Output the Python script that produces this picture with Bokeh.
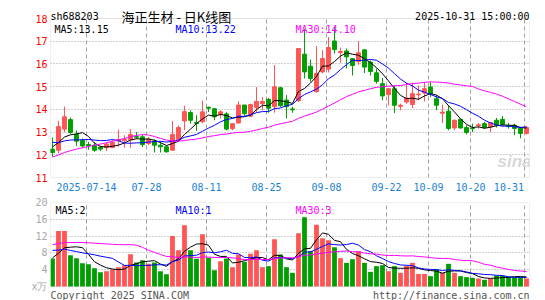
import pandas as pd
from bokeh.plotting import figure
from bokeh.layouts import column
from bokeh.models import ColumnDataSource, FixedTicker, Label, Range1d, BoxAnnotation
from bokeh.embed import file_html
from bokeh.resources import INLINE

# ---------------- data ----------------
holidays = ["2025-10-01", "2025-10-02", "2025-10-03", "2025-10-06", "2025-10-07", "2025-10-08"]
trade_days = [d.strftime("%Y-%m-%d") for d in pd.bdate_range("2025-07-04", "2025-10-31")
              if d.strftime("%Y-%m-%d") not in holidays]

open_ = [12.25, 12.20, 13.13, 13.55, 12.89, 12.63, 12.45, 12.42, 12.34, 12.31,
         12.32, 12.61, 12.62, 12.67, 12.80, 12.79, 12.50, 12.60, 12.42, 12.35,
         12.20, 12.67, 13.49, 13.86, 13.42, 13.45, 14.09, 14.03, 13.77, 13.80,
         13.15, 13.40, 14.19, 13.70, 14.08, 14.25, 14.44, 14.12, 14.95, 14.41,
         14.02, 14.38, 16.43, 15.90, 14.78, 15.65, 15.77, 17.01, 16.50, 16.57,
         16.23, 16.11, 16.62, 16.08, 15.61, 15.13, 14.65, 14.91, 14.13, 14.32,
         14.21, 14.64, 14.72, 14.98, 14.47, 13.83, 13.92, 13.18, 13.56, 13.20,
         13.17, 13.28, 13.37, 13.23, 13.52, 13.56, 13.27, 13.30, 13.16, 12.94]
high = [12.76, 13.50, 14.12, 13.64, 13.07, 12.72, 12.57, 12.54, 12.39, 12.54,
        12.64, 13.11, 12.86, 13.13, 13.00, 12.89, 12.79, 12.67, 12.57, 12.42,
        13.49, 13.30, 14.16, 13.96, 13.74, 14.38, 14.13, 14.05, 13.96, 13.89,
        13.40, 14.35, 14.20, 14.25, 14.98, 14.54, 14.50, 15.95, 15.00, 14.63,
        14.12, 16.70, 17.55, 16.19, 16.78, 16.60, 17.19, 17.63, 16.72, 16.68,
        16.26, 17.00, 16.63, 16.15, 15.79, 15.38, 14.94, 15.06, 14.25, 15.17,
        15.17, 15.06, 15.20, 15.20, 14.62, 14.21, 14.18, 13.55, 13.59, 13.30,
        13.37, 13.40, 13.45, 13.45, 13.62, 13.71, 13.40, 13.37, 13.23, 13.27]
low = [11.91, 12.06, 12.98, 12.92, 12.39, 12.31, 12.22, 12.13, 12.16, 12.16,
       12.29, 12.35, 12.31, 12.31, 12.70, 12.34, 12.42, 12.10, 12.10, 12.10,
       12.18, 12.57, 13.08, 13.37, 13.05, 13.40, 13.88, 13.52, 13.60, 13.08,
       13.08, 13.38, 13.71, 13.67, 13.89, 13.96, 13.85, 13.85, 14.10, 13.60,
       13.85, 14.33, 15.36, 15.22, 14.73, 15.58, 15.62, 16.46, 16.05, 15.80,
       15.49, 15.96, 15.60, 15.49, 15.13, 14.40, 14.18, 13.84, 13.96, 14.25,
       14.06, 14.40, 14.35, 14.54, 13.96, 13.40, 13.08, 13.08, 13.15, 12.89,
       13.00, 13.15, 13.15, 13.00, 13.20, 13.27, 13.15, 12.86, 12.72, 12.89]
close = [12.10, 13.24, 13.67, 12.98, 12.60, 12.39, 12.40, 12.20, 12.25, 12.47,
         12.54, 12.67, 12.67, 12.89, 12.77, 12.45, 12.69, 12.42, 12.35, 12.13,
         12.89, 13.20, 13.90, 13.52, 13.38, 13.89, 14.05, 13.67, 13.89, 13.13,
         13.37, 14.19, 13.81, 14.21, 14.35, 14.35, 14.05, 14.99, 14.16, 14.12,
         13.98, 16.68, 15.65, 15.36, 15.58, 16.24, 16.72, 16.63, 16.55, 16.31,
         15.93, 16.49, 15.86, 15.67, 15.23, 14.59, 14.91, 14.18, 14.18, 14.50,
         14.69, 14.67, 14.91, 14.69, 14.18, 13.88, 13.16, 13.52, 13.18, 12.98,
         13.15, 13.32, 13.20, 13.42, 13.30, 13.34, 13.25, 13.16, 12.94, 13.20]
# volume, 万手
volume = [6.67, 13.2, 13.2, 7.46, 6.75, 5.56, 5.32, 4.37, 3.41, 3.65,
          4.05, 4.6, 5.08, 7.7, 5.71, 6.27, 5.4, 5.71, 3.65, 2.94,
          12.0, 8.65, 14.6, 8.65, 6.59, 12.46, 6.83, 3.89, 6.03, 6.67,
          4.6, 7.62, 5.87, 7.78, 8.65, 4.6, 4.84, 11.27, 7.62, 4.6,
          3.25, 12.7, 16.5, 8.4, 14.7, 11.5, 11.0, 9.37, 6.75, 5.63,
          6.5, 8.4, 5.63, 3.49, 4.84, 5.08, 3.65, 4.84, 3.25, 4.92,
          5.63, 3.0, 3.0, 2.46, 4.13, 3.25, 5.4, 3.25, 2.46, 2.22,
          2.06, 1.9, 1.59, 1.9, 2.62, 2.62, 2.3, 2.22, 2.22, 1.9]
# sessions before the visible window (estimated from where the MA lines start)
prior_close = [10.5, 10.4, 10.6, 10.5, 10.7, 10.6, 10.5, 10.8, 10.7, 10.6,
               10.8, 10.9, 10.7, 10.9, 11.3, 13.2, 14.5, 14.8, 14.4, 14.1,
               13.4, 12.9, 12.6, 12.5, 12.35, 12.3, 12.45, 12.5, 12.4]
prior_volume = [6.2, 5.8, 7.0, 6.5, 6.1, 6.8, 7.2, 6.0, 6.4, 6.9,
                6.3, 6.6, 6.7, 9.5, 22.0, 26.0, 21.0, 18.5, 17.2, 14.5,
                12.5, 11.0, 10.4, 9.6, 8.5, 7.5, 6.9, 6.6, 6.3]

tick_dates = ["2025-07-14", "2025-07-28", "2025-08-11", "2025-08-25", "2025-09-08",
              "2025-09-22", "2025-10-09", "2025-10-20", "2025-10-31"]
tick_labels = ["2025-07-14", "07-28", "08-11", "08-25", "09-08",
               "09-22", "10-09", "10-20", "10-31"]
price_ticks = [11, 12, 13, 14, 15, 16, 17, 18]
vol_ticks = [0, 4, 8, 12, 16, 20]
price_legend = ["MA5:13.15", "MA10:13.22", "MA30:14.10"]
vol_legend = ["MA5:2", "MA10:1", "MA30:3"]

# ---------------- derived ----------------
RED, GREEN = "#ff5555", "#009f00"
MA_COLORS = ["#000000", "#0000ff", "#ff00ff"]
GRID = "#a0a0a0"
FRAME = "#9a9a9a"
MONO = "DejaVu Sans Mono"
n = len(close)
x = list(range(n))


def moving_average(prior, vals, k):
    full = list(prior) + list(vals)
    off = len(prior)
    return [sum(full[off + i - k + 1: off + i + 1]) / k for i in range(len(vals))]


colors = [RED if c >= o else GREEN for o, c in zip(open_, close)]
src = ColumnDataSource(dict(
    x=x, open=open_, high=high, low=low, close=close, vol=volume, color=colors,
    top=[max(o, c) for o, c in zip(open_, close)],
    bottom=[min(o, c) for o, c in zip(open_, close)],
    ma5=moving_average(prior_close, close, 5),
    ma10=moving_average(prior_close, close, 10),
    ma30=moving_average(prior_close, close, 30),
    vma5=moving_average(prior_volume, volume, 5),
    vma10=moving_average(prior_volume, volume, 10),
    vma30=moving_average(prior_volume, volume, 30),
))

grid_x = [round(trade_days.index(d) - 0.33, 2) for d in tick_dates]
label_x = list(grid_x)
label_x[-1] = round(label_x[-1] - 2.6, 2)  # last label kept inside the frame

# pixel geometry of the two panels
FRAME_W = 479
PRICE_PX = 159          # height of the 11..18 box
PRICE_TOP_PAD = 18      # header strip inside the price canvas
VOL_PX = 84             # height of the 0..20 box
VOL_BOTTOM_PAD = 14     # footer strip inside the volume canvas
x_range_args = (-0.33, 79.5)

price_lo, price_hi = price_ticks[0], price_ticks[-1]
price_top = price_hi + PRICE_TOP_PAD * (price_hi - price_lo) / PRICE_PX
vol_lo, vol_hi = vol_ticks[0], vol_ticks[-1]
vol_bottom = vol_lo - VOL_BOTTOM_PAD * (vol_hi - vol_lo) / VOL_PX


def style_axes(fig):
    fig.outline_line_color = None
    fig.background_fill_color = "white"
    fig.border_fill_color = "white"
    fig.xgrid.grid_line_color = None
    fig.ygrid.grid_line_color = GRID
    fig.ygrid.grid_line_dash = "1 2"
    for ax in fig.yaxis:
        ax.major_tick_line_color = None
        ax.minor_tick_line_color = None
        ax.axis_line_color = None
        ax.major_tick_out = 0
        ax.major_tick_in = 0
        ax.major_label_text_font = MONO
        ax.major_label_text_font_size = "10px"
        ax.major_label_standoff = 3


# ---------------- price panel ----------------
p = figure(width=545, height=PRICE_TOP_PAD + PRICE_PX + 18,
           x_range=Range1d(*x_range_args), y_range=Range1d(price_lo, price_top),
           output_backend="svg", toolbar_location=None,
           min_border_left=50, min_border_right=16, min_border_top=0, min_border_bottom=18)
style_axes(p)
p.yaxis.ticker = FixedTicker(ticks=price_ticks)
p.yaxis.major_label_text_color = "#ff0000"
p.ygrid.ticker = FixedTicker(ticks=price_ticks[1:-1])

p.xaxis.ticker = FixedTicker(ticks=label_x)
p.xaxis.major_label_overrides = {lx: lab for lx, lab in zip(label_x, tick_labels)}
p.xaxis.major_tick_line_color = None
p.xaxis.minor_tick_line_color = None
p.xaxis.axis_line_color = None
p.xaxis.major_tick_out = 0
p.xaxis.major_tick_in = 0
p.xaxis.major_label_standoff = 5
p.xaxis.major_label_text_font = MONO
p.xaxis.major_label_text_font_size = "10px"
p.xaxis.major_label_text_color = "#1a7fd4"

p.segment(x0=grid_x, y0=[price_lo] * len(grid_x), x1=grid_x, y1=[price_hi] * len(grid_x),
          line_color=GRID, line_dash="4 3", line_width=1)
p.add_layout(BoxAnnotation(bottom=price_lo, top=price_hi, fill_color=None, fill_alpha=0,
                           line_color=FRAME, line_width=1, level="underlay"))

p.add_layout(Label(x=447, y=7, x_units="screen", y_units="screen", text="sina",
                   text_font="Liberation Sans", text_font_size="17px", text_font_style="bold italic",
                   text_color="#d0d0d0", text_alpha=0.85))

p.segment(x0="x", y0="high", x1="x", y1="low", color="color", line_width=1, source=src)
p.vbar(x="x", width=0.65, top="top", bottom="bottom", fill_color="color", line_color="color",
       line_width=1, source=src)
for key, col in zip(["ma5", "ma10", "ma30"], MA_COLORS):
    p.line(x="x", y=key, color=col, line_width=1, source=src)

for txt, lx, col in zip(price_legend, [4, 125, 245], MA_COLORS):
    p.add_layout(Label(x=lx, y=PRICE_PX - 10.5, x_units="screen", y_units="screen", text=txt,
                       text_font=MONO, text_font_size="10px", text_color=col,
                       text_baseline="alphabetic"))

p.add_layout(Label(x=0, y=PRICE_PX + 2.5, x_units="screen", y_units="screen", text="sh688203",
                   text_font=MONO, text_font_size="10px", text_color="#000000",
                   text_baseline="alphabetic"))
p.add_layout(Label(x=71, y=PRICE_PX + 2.5, x_units="screen", y_units="screen",
                   text="海正生材 - 日K线图", text_font="Noto Sans CJK SC", text_font_size="13px",
                   text_color="#000000", text_baseline="alphabetic"))
p.add_layout(Label(x=FRAME_W, y=PRICE_PX + 2.5, x_units="screen", y_units="screen",
                   text="2025-10-31 15:00:00", text_font=MONO, text_font_size="10px",
                   text_color="#000000", text_align="right", text_baseline="alphabetic"))

# ---------------- volume panel ----------------
v = figure(width=545, height=7 + VOL_PX + VOL_BOTTOM_PAD,
           x_range=Range1d(*x_range_args), y_range=Range1d(vol_bottom, vol_hi),
           output_backend="svg", toolbar_location=None,
           min_border_left=50, min_border_right=16, min_border_top=7, min_border_bottom=0)
style_axes(v)
v.xaxis.visible = False
v.yaxis.ticker = FixedTicker(ticks=vol_ticks)
v.yaxis.major_label_overrides = {0: "x万"}
v.yaxis.major_label_text_color = "#a8a8a8"
v.ygrid.ticker = FixedTicker(ticks=vol_ticks[1:-1])

v.segment(x0=grid_x, y0=[vol_lo] * len(grid_x), x1=grid_x, y1=[vol_hi] * len(grid_x),
          line_color=GRID, line_dash="4 3", line_width=1)
v.add_layout(BoxAnnotation(bottom=vol_lo, top=vol_hi, fill_color=None, fill_alpha=0,
                           line_color=FRAME, line_width=1, level="underlay"))

v.vbar(x="x", width=0.8, top="vol", bottom=0, fill_color="color", line_color=None, source=src)
for key, col in zip(["vma5", "vma10", "vma30"], MA_COLORS):
    v.line(x="x", y=key, color=col, line_width=1, source=src)

VOL_FRAME_H = VOL_PX + VOL_BOTTOM_PAD
for txt, lx, col in zip(vol_legend, [5, 125, 245], MA_COLORS):
    v.add_layout(Label(x=lx, y=VOL_FRAME_H - 7.5, x_units="screen", y_units="screen", text=txt,
                       text_font=MONO, text_font_size="10px", text_color=col,
                       text_baseline="alphabetic"))

v.add_layout(Label(x=0, y=5, x_units="screen", y_units="screen", text="Copyright 2025 SINA.COM",
                   text_font=MONO, text_font_size="10px", text_color="#555555",
                   text_baseline="alphabetic"))
v.add_layout(Label(x=FRAME_W, y=5, x_units="screen", y_units="screen",
                   text="http://finance.sina.com.cn", text_font=MONO, text_font_size="10px",
                   text_color="#555555", text_align="right", text_baseline="alphabetic"))

layout = column(p, v, spacing=0)
open("out.html", "w").write(file_html(layout, INLINE))
